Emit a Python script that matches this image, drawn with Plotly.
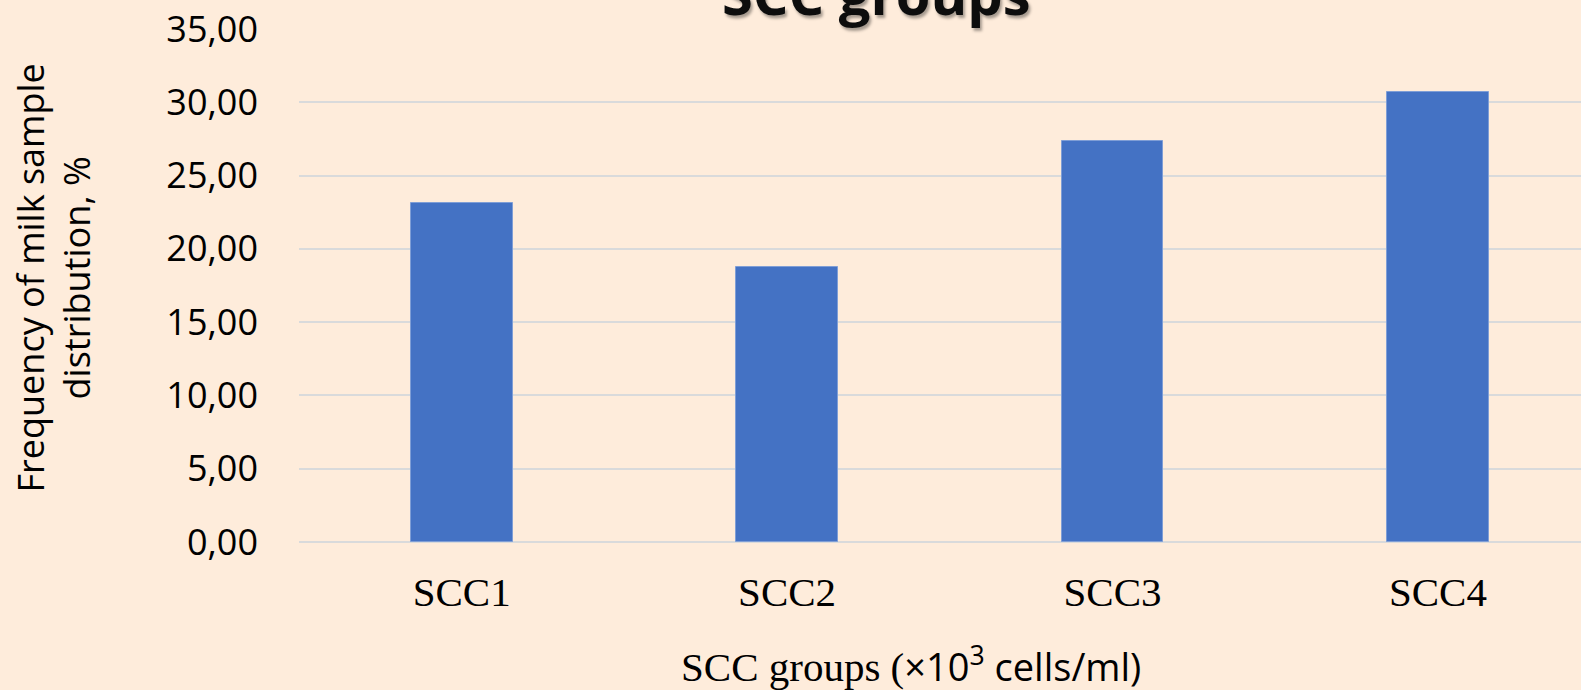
import plotly.graph_objects as go

categories = ["SCC1", "SCC2", "SCC3", "SCC4"]
values = [23.14, 18.73, 27.34, 30.72]
y_ticks = [0, 5, 10, 15, 20, 25, 30, 35]

W, H = 1581, 690
L, R, T, B = 299, 0, 29, 148
BG = "#FEECDB"
PW = W - L - R
PH = H - T - B

fig = go.Figure()
fig.add_trace(go.Bar(
    x=categories, y=values, width=0.313,
    marker=dict(color="#4472C4", line=dict(color="#7F9ED6", width=1)),
    hoverinfo="skip",
))

fig.update_layout(
    width=W, height=H,
    margin=dict(l=L, r=R, t=T, b=B, pad=0),
    paper_bgcolor=BG, plot_bgcolor=BG,
    separators=", ",
    showlegend=False,
    bargap=0,
    xaxis=dict(
        range=[-0.5, -0.5 + PW / 325.4],
        showgrid=False, zeroline=False, showline=False, ticks="",
        tickfont=dict(family="Liberation Serif", size=41, color="#000000"),
        ticklabelstandoff=22,
    ),
    yaxis=dict(
        range=[0, 35], tickvals=y_ticks, tickformat=".2f",
        showgrid=True, gridcolor="#D9DADB", gridwidth=2,
        zeroline=True, zerolinecolor="#D9DADB", zerolinewidth=2,
        showline=False, ticks="",
        tickfont=dict(family="Open Sans", size=36, color="#000000"),
        ticklabelstandoff=40,
    ),
    annotations=[
        dict(
            text="<b>SCC groups</b>", xref="paper", yref="paper",
            x=(876.5 - L) / PW, y=(H - B + 7) / PH,
            xanchor="center", yanchor="middle", showarrow=False,
            font=dict(family="Open Sans", size=56, color="#0D0D0D",
                      shadow="2px 3px 3px rgba(0,0,0,0.35)"),
        ),
        dict(
            text="Frequency of milk sample<br>distribution, %",
            xref="paper", yref="paper",
            x=(53 - L) / PW, y=(H - B - 277.5) / PH,
            xanchor="center", yanchor="middle", showarrow=False,
            textangle=-90,
            font=dict(family="Open Sans", size=36, color="#000000"),
        ),
        dict(
            text=('<span style="font-family:Liberation Serif">SCC groups (</span>'
                  '<span style="font-family:Open Sans;font-size:38px">×10<sup>3</sup> cells/ml)</span>'),
            xref="paper", yref="paper",
            x=(911 - L) / PW, y=(H - B - 664) / PH,
            xanchor="center", yanchor="middle", showarrow=False,
            font=dict(family="Liberation Serif", size=41, color="#000000"),
        ),
    ],
)

fig.write_html(
    "out.html",
    config={"displayModeBar": False},
    post_script="document.body.style.margin='0';document.documentElement.style.overflow='hidden';",
)
